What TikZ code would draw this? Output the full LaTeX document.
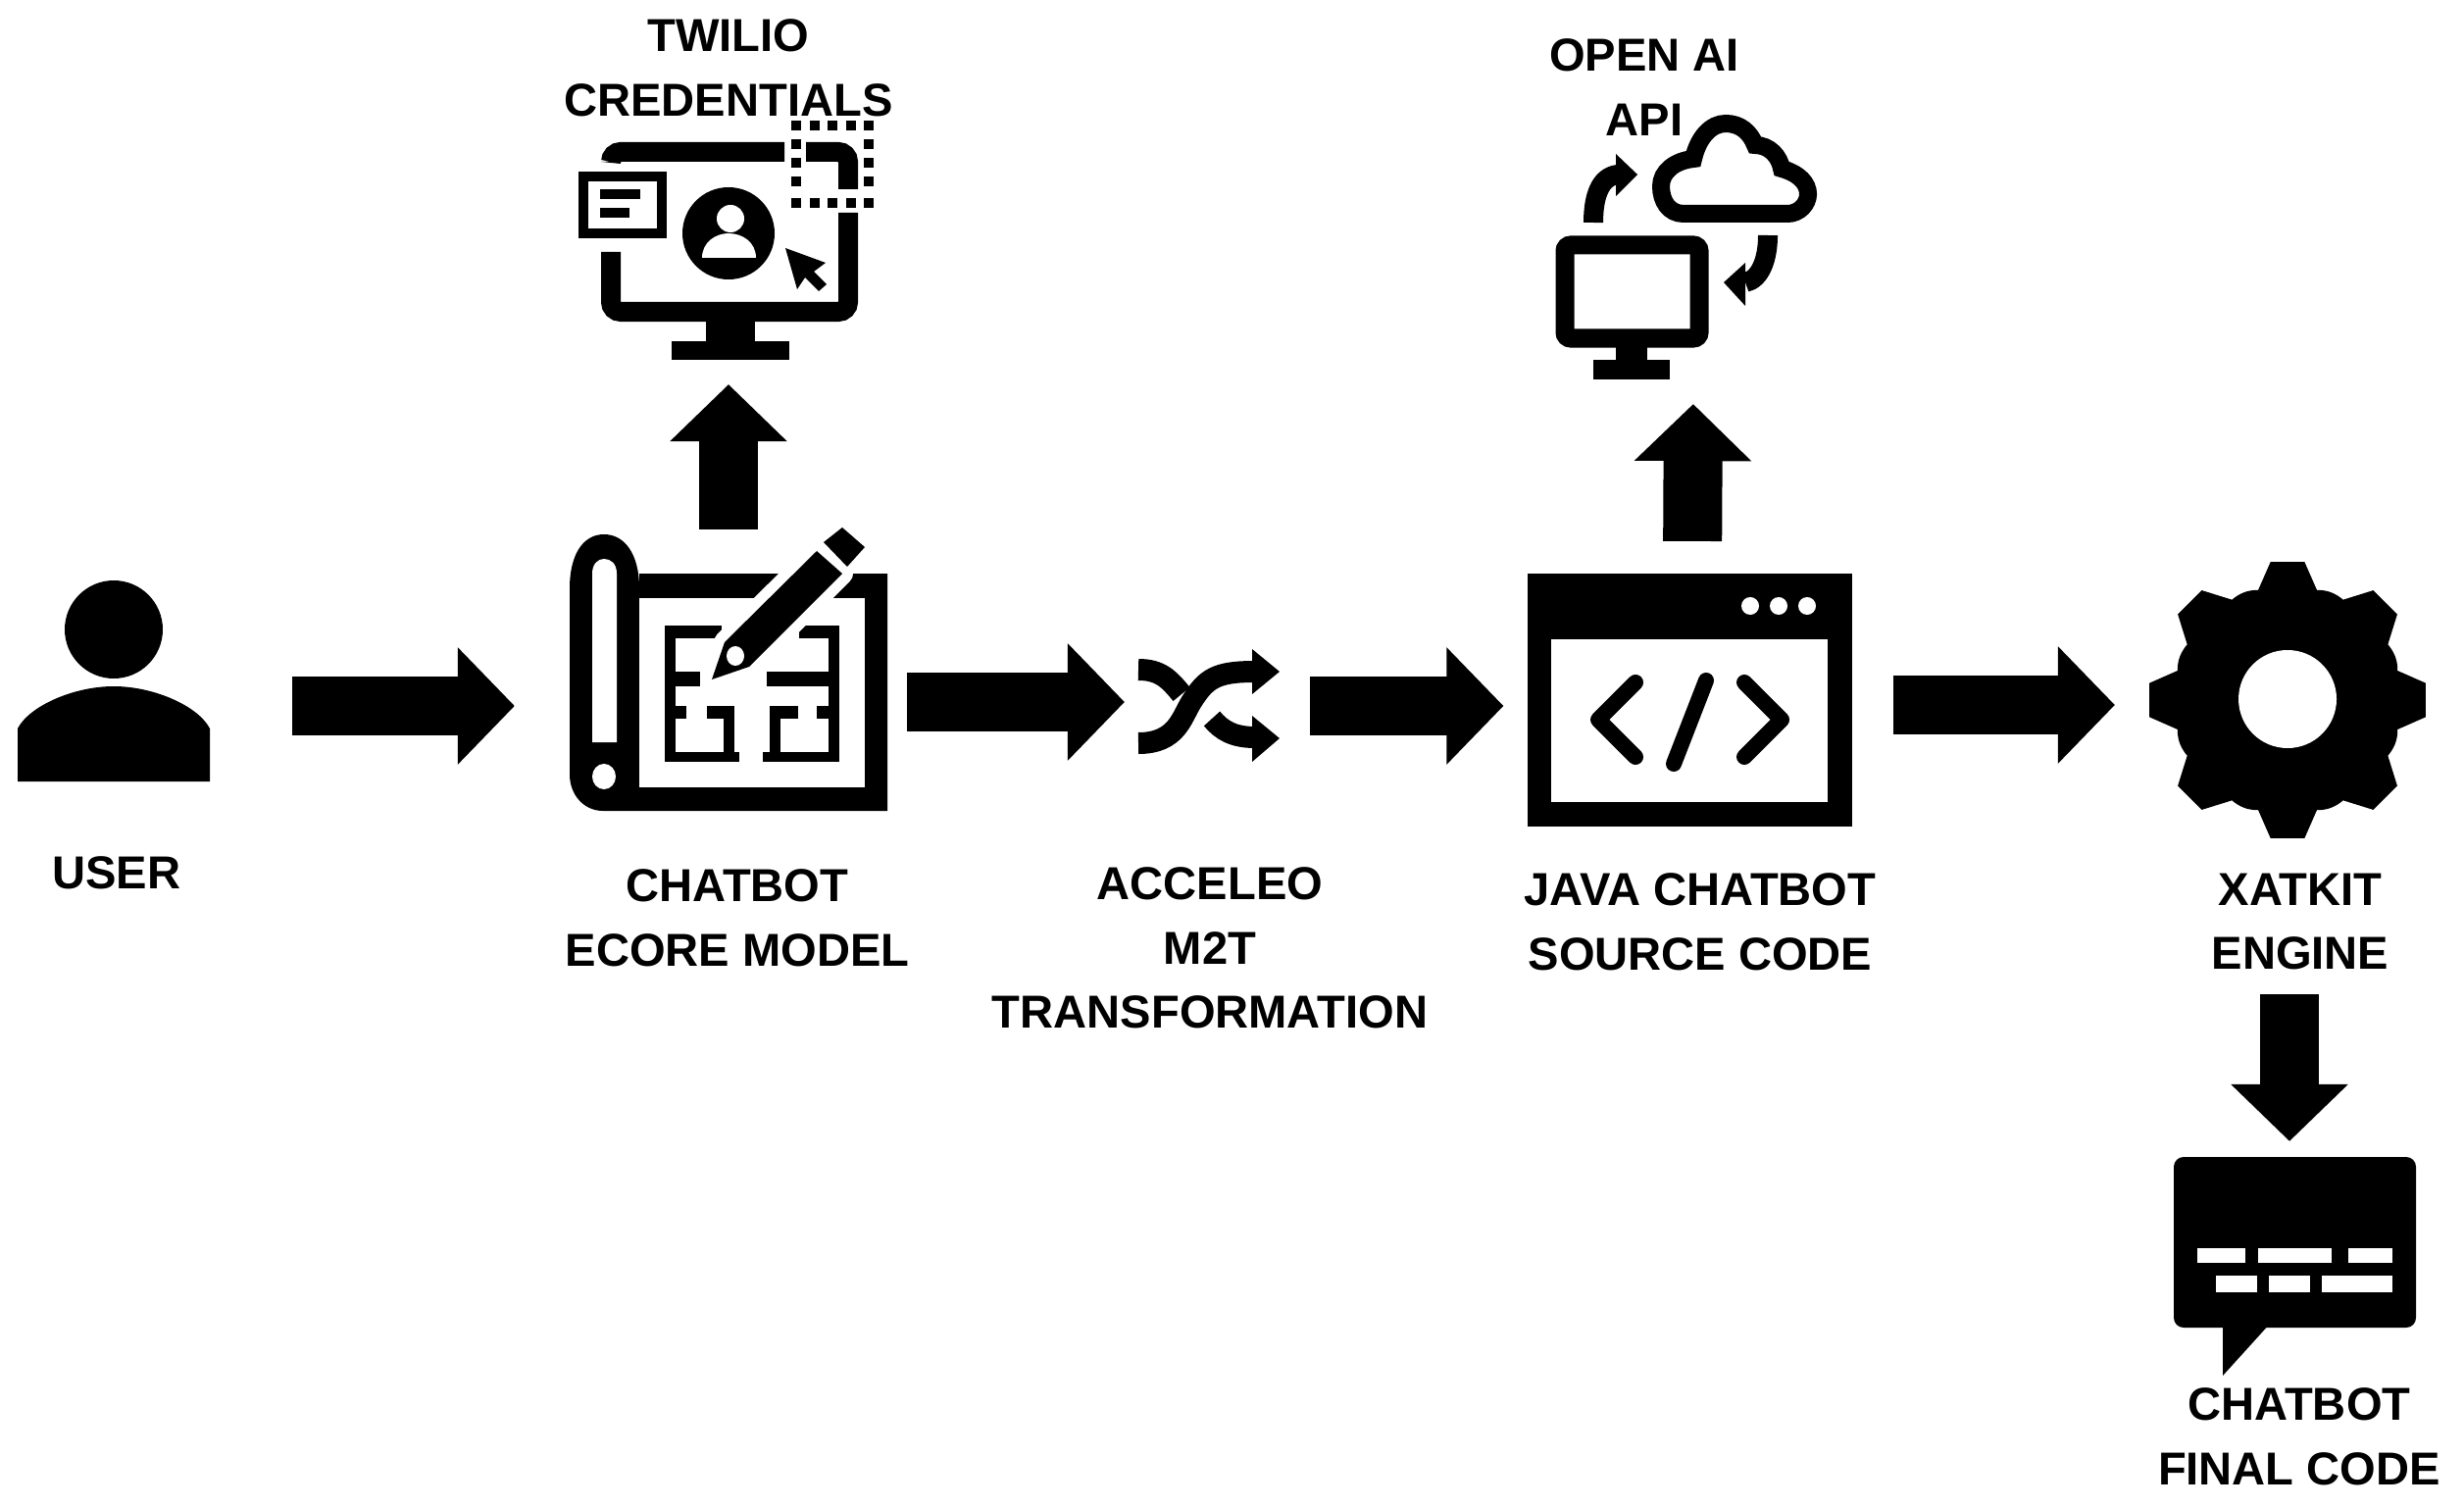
\documentclass[tikz,border=0pt]{standalone}
\usepackage{fontspec}
\setmainfont{Liberation Sans}
\usetikzlibrary{arrows.meta}

\tikzset{
    iconbox/.style={inner sep=0pt, outer sep=0pt, minimum height=3.6cm},
    caption/.style={align=center, inner sep=0pt, font=\fontsize{13.4}{18.7}\selectfont\bfseries},
    blockarrow/.style={line width=.6cm, -{Triangle[length=.58cm,width=1.16cm]}},
    iconline/.style={line width=.2cm},
    thinline/.style={line width=.16cm, line cap=round, line join=round}
}

\begin{document}
\begin{tikzpicture}[x=.01cm,y=-.01cm]
    \useasboundingbox (0,0) rectangle (2513,1537);

    \node[iconbox, minimum width=1.96cm] (user) at (116,720) {};
    \node[iconbox, minimum width=3.24cm] (ecore) at (743,720) {};
    \node[iconbox, minimum width=1.44cm] (shuffle) at (1233,720) {};
    \node[iconbox, minimum width=3.31cm, minimum height=2.58cm] (java) at (1723,714) {};
    \node[iconbox, minimum width=2.84cm, minimum height=2.82cm] (xatkit) at (2333,714) {};
    \node[iconbox, minimum width=2.8cm, minimum height=2.44cm] (twilio) at (743,245) {};
    \node[iconbox, minimum width=2.66cm, minimum height=2.7cm] (openai) at (1725,252) {};
    \node[iconbox, minimum width=2.47cm, minimum height=2.18cm] (bubble) at (2340,1289) {};

    \node[caption] (userlabel) at (119,890) {USER};
    \node[caption] (ecorelabel) at (752,936) {CHATBOT\\ ECORE MODEL};
    \node[caption] (acceleolabel) at (1234,967) {ACCELEO\\ M2T\\ TRANSFORMATION};
    \node[caption] (javalabel) at (1734,940) {JAVA CHATBOT\\ SOURCE CODE};
    \node[caption] (xatkitlabel) at (2346,940) {XATKIT\\ ENGINE};
    \node[caption] (twiliolabel) at (743,69) {TWILIO\\ CREDENTIALS};
    \node[caption] (openailabel) at (1677,89) {OPEN AI\\ API};
    \node[caption] (bubblelabel) at (2345,1465) {CHATBOT\\ FINAL CODE};

    % user
    \fill (116,642) circle (50);
    \fill (18,797) -- (18,743) .. controls (30,720) and (75,700) .. (116,700)
        .. controls (157,700) and (202,720) .. (214,743) -- (214,797) -- cycle;

    % blueprint
    \fill (581,600) .. controls (581,565) and (595,545) .. (616,545) .. controls (637,545) and (652,565) .. (652,600)
        -- (652,585) -- (905,585) -- (905,827) -- (615,827) .. controls (595,827) and (581,810) .. (581,790) -- cycle;
    \fill[white] (652,610) rectangle (882,803);
    \fill[white] (604,757) -- (604,585) .. controls (604,575) and (610,570) .. (616,570)
        .. controls (623,570) and (629,575) .. (629,585) -- (629,757) -- cycle;
    \fill[white] (616,792) ellipse (12 and 13);

    \fill (678,638) rectangle (689,777);
    \fill (845,638) rectangle (856,777);
    \fill (678,638) rectangle (736,651);
    \fill (815,638) rectangle (856,651);
    \fill (678,685) rectangle (714,700);
    \fill (782,685) rectangle (856,700);
    \fill (678,720) rectangle (700,733);
    \fill (721,720) rectangle (749,733);
    \fill (785,720) rectangle (814,733);
    \fill (833,720) rectangle (856,733);
    \fill (738,720) rectangle (749,777);
    \fill (785,720) rectangle (796,777);
    \fill (678,767) rectangle (754,777);
    \fill (778,767) rectangle (856,777);

    \draw[white, fill=white, line width=.22cm, line join=round] (833,562) -- (859,585) -- (764,680) -- (726,693) -- (739,655) -- cycle;
    \fill (833,562) -- (859,585) -- (764,680) -- (726,693) -- (739,655) -- cycle;
    \fill (859,538) -- (882,558) -- (864,578) -- (840,553) -- cycle;
    \fill[white] (750,669) ellipse (9 and 10);

    % shuffle
    \draw[line width=.22cm] (1161,758) .. controls (1200,758) and (1205,732) .. (1215,716)
        .. controls (1230,692) and (1240,685) .. (1280,685);
    \fill (1277,662) -- (1305,685) -- (1277,708) -- cycle;
    \draw[line width=.22cm] (1161,683) .. controls (1183,683) and (1192,692) .. (1205,708);
    \draw[line width=.22cm] (1236,733) .. controls (1246,745) and (1258,752) .. (1280,752);
    \fill (1277,730) -- (1305,753) -- (1277,777) -- cycle;

    % source code window
    \fill (1558,585) rectangle (1889,843);
    \fill[white] (1582,652) rectangle (1864,818);
    \foreach \dotx in {1785,1814,1843}
        \fill[white] (\dotx,618) circle (9);
    \draw[thinline] (1668,696) -- (1630,734) -- (1668,772);
    \draw[thinline] (1740,694) -- (1707,779);
    \draw[thinline] (1779,696) -- (1817,734) -- (1779,772);

    % gear
    \fill[shift={(2333,714)}] (-7:142) \foreach \a in {0,90,180,270} {
        -- ({\a-7}:142) -- ({\a+7}:142) -- ({\a+15}:116)
        .. controls ({\a+20}:120) and ({\a+25}:119) .. ({\a+29}:117)
        -- ({\a+38}:142) -- ({\a+52}:142) -- ({\a+61}:117)
        .. controls ({\a+65}:119) and ({\a+70}:120) .. ({\a+75}:116)} -- cycle;
    \fill[white] (2333,713) circle (50);

    % credentials monitor
    \draw[iconline, rounded corners=.1cm] (623,257) -- (623,318) -- (865,318) -- (865,217);
    \draw[iconline, rounded corners=.1cm] (623,165) -- (623,155) -- (800,155);
    \draw[iconline, rounded corners=.1cm] (822,155) -- (865,155) -- (865,193);
    \fill (720,328) rectangle (770,348);
    \fill (685,348) rectangle (805,367);
    \foreach \dotx in {812,831,849,868,886} {
        \fill (\dotx-5,123) rectangle (\dotx+5,133);
        \fill (\dotx-5,202) rectangle (\dotx+5,212);
    }
    \foreach \doty in {147,166,185} {
        \fill (807,\doty-5) rectangle (817,\doty+5);
        \fill (881,\doty-5) rectangle (891,\doty+5);
    }
    \draw[line width=.1cm] (595,180) rectangle (675,238);
    \fill (612,193) rectangle (653,203);
    \fill (612,212) rectangle (642,222);
    \fill (743,238) circle (47);
    \fill[white] (745,223) circle (14);
    \fill[white] (716,263) .. controls (716,247) and (730,238) .. (743,238)
        .. controls (757,238) and (771,247) .. (771,263) -- cycle;
    \fill (801,253) -- (842,268) -- (830,277) -- (843,290) -- (835,297) -- (821,283) -- (813,295) -- cycle;

    % open ai monitor
    \draw[iconline, line width=.19cm, rounded corners=.06cm] (1596,250) rectangle (1733,345);
    \fill (1648,350) rectangle (1680,370);
    \fill (1625,367) rectangle (1703,387);
    \draw[line width=.18cm] (1717,218) .. controls (1702,218) and (1694,205) .. (1694,190)
        .. controls (1694,175) and (1708,164) .. (1727,162)
        .. controls (1732,140) and (1745,126) .. (1760,126)
        .. controls (1775,126) and (1785,135) .. (1790,148)
        .. controls (1805,148) and (1815,160) .. (1817,172)
        .. controls (1835,177) and (1844,187) .. (1844,198)
        .. controls (1844,208) and (1835,218) .. (1823,218) -- cycle;
    \draw[iconline] (1625,227) .. controls (1625,200) and (1632,180) .. (1650,178);
    \fill (1648,157) -- (1670,178) -- (1648,200) -- cycle;
    \draw[iconline] (1803,240) .. controls (1803,265) and (1795,285) .. (1780,288);
    \fill (1780,268) -- (1758,288) -- (1780,312) -- cycle;

    % chat bubble
    \fill[rounded corners=.1cm] (2217,1180) rectangle (2464,1354);
    \fill (2267,1350) -- (2267,1403) -- (2315,1350) -- cycle;
    \fill[white] (2241,1273) rectangle (2290,1288);
    \fill[white] (2303,1273) rectangle (2378,1288);
    \fill[white] (2395,1273) rectangle (2440,1288);
    \fill[white] (2260,1301) rectangle (2302,1318);
    \fill[white] (2314,1301) rectangle (2356,1318);
    \fill[white] (2368,1301) rectangle (2440,1318);

    \draw[blockarrow, shorten <=.84cm, shorten >=.56cm] (user.east) -- (ecore.west);
    \draw[blockarrow, shorten <=.2cm, shorten >=.14cm] ([yshift=.04cm]ecore.east) -- ([yshift=.04cm]shuffle.west);
    \draw[blockarrow, shorten <=.31cm, shorten >=.24cm] (shuffle.east) -- (shuffle.east -| java.west);
    \draw[blockarrow, shorten <=.42cm, shorten >=.34cm] ([yshift=-.05cm]java.east) -- ([yshift=-.05cm]xatkit.west);
    \draw[blockarrow, shorten >=.25cm] (ecore.north) -- (twilio.south);
    \draw[blockarrow, shorten <=.33cm, shorten >=.25cm] ([xshift=.03cm]java.north) -- ([xshift=.02cm]openai.south);
    \draw[blockarrow, shorten <=1.59cm, shorten >=.16cm] ([xshift=.02cm]xatkit.south) -- ([xshift=.02cm]xatkit.south |- bubble.north);
\end{tikzpicture}
\end{document}
